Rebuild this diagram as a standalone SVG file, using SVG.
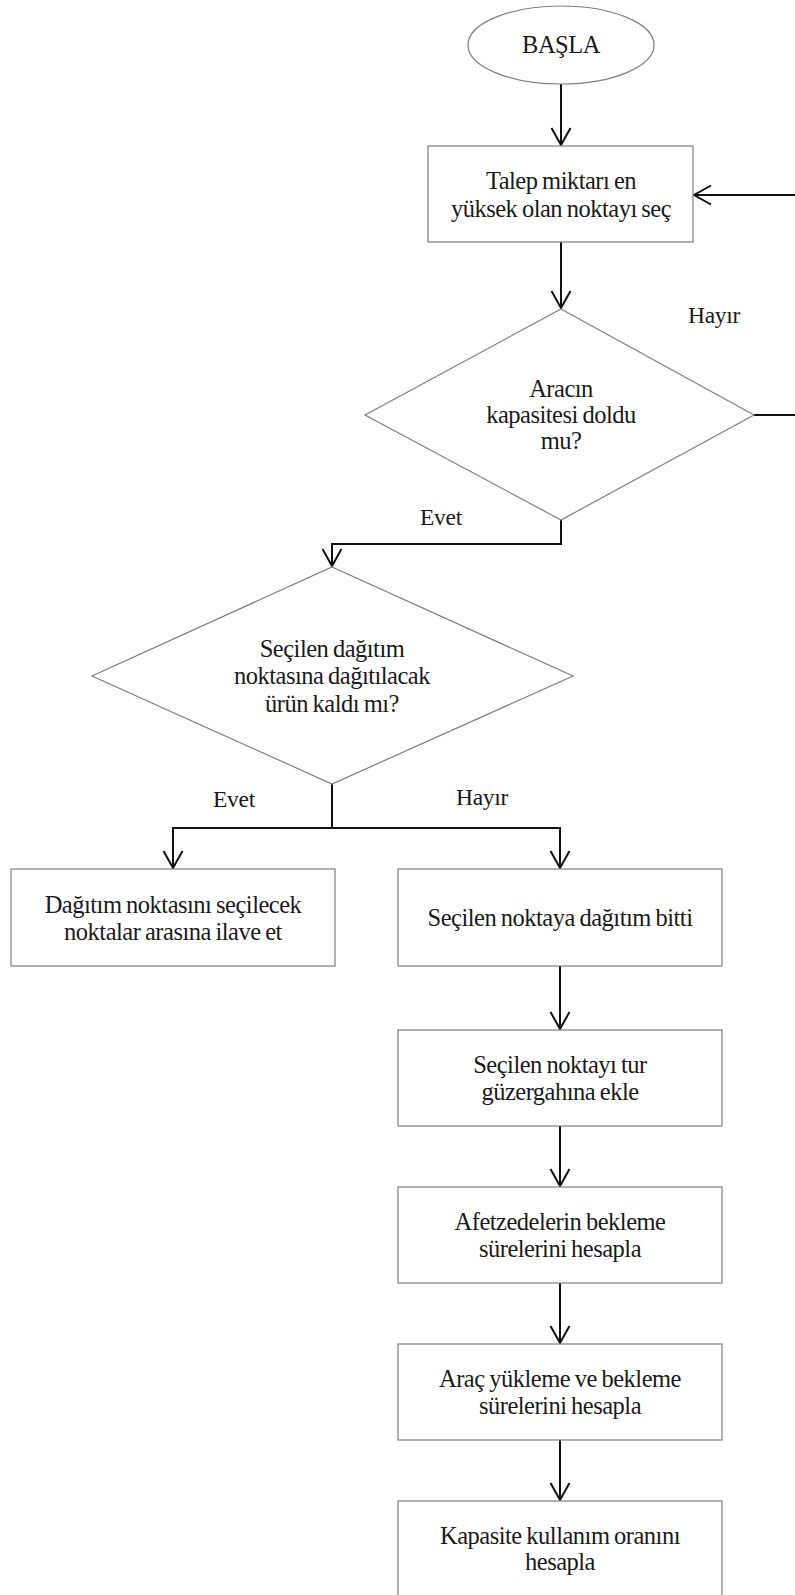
<svg xmlns="http://www.w3.org/2000/svg" width="795" height="1595" viewBox="0 0 795 1595">
<style>
.node{fill:#fff;stroke:#7f7f7f;stroke-width:1.2}
.t{font-family:"Liberation Serif","Times New Roman",serif;font-size:24.5px;letter-spacing:-0.5px;word-spacing:-1px;fill:#1a1a1a;text-anchor:middle}
.lbl{font-family:"Liberation Serif","Times New Roman",serif;font-size:23.5px;letter-spacing:-0.3px;fill:#1a1a1a}
.c{fill:none;stroke:#111;stroke-width:2}
</style>
<defs>
<marker id="ah" markerUnits="userSpaceOnUse" markerWidth="30" markerHeight="30" viewBox="-20 -15 30 30" refX="0" refY="0" orient="auto">
<path d="M-17,-9.5 L0,0 L-17,9.5" fill="none" stroke="#111" stroke-width="2"/>
</marker>
</defs>
<rect width="795" height="1595" fill="#fff"/>
<g id="connectors">
<path class="c" d="M561,84 V145" marker-end="url(#ah)"/>
<path class="c" d="M561,242 V308" marker-end="url(#ah)"/>
<path class="c" d="M754,415 H800 V195 H694" marker-end="url(#ah)"/>
<path class="c" d="M561,520 V544 H332 V566" marker-end="url(#ah)"/>
<path class="c" d="M332,784 V828 H173 V868" marker-end="url(#ah)"/>
<path class="c" d="M332,828 H560 V868" marker-end="url(#ah)"/>
<path class="c" d="M560,966 V1029" marker-end="url(#ah)"/>
<path class="c" d="M560,1126 V1186" marker-end="url(#ah)"/>
<path class="c" d="M560,1283 V1343" marker-end="url(#ah)"/>
<path class="c" d="M560,1440 V1500" marker-end="url(#ah)"/>
</g>
<g id="labels">
<text class="lbl" x="688" y="323">Hayır</text>
<text class="lbl" x="420" y="525">Evet</text>
<text class="lbl" x="213" y="807">Evet</text>
<text class="lbl" x="456" y="805">Hayır</text>
</g>
<g id="start">
<ellipse class="node" cx="561" cy="45" rx="93" ry="39"/>
<text class="t" x="561" y="53">BAŞLA</text>
</g>
<g id="select-max">
<rect class="node" x="428" y="146" width="265" height="96"/>
<text class="t" x="561" y="189">Talep miktarı en</text>
<text class="t" x="561" y="217">yüksek olan noktayı seç</text>
</g>
<g id="capacity-full">
<polygon class="node" points="561,309 754,415 561,520 365,415"/>
<text class="t" x="561" y="397">Aracın</text>
<text class="t" x="561" y="423">kapasitesi doldu</text>
<text class="t" x="561" y="449">mu?</text>
</g>
<g id="product-left">
<polygon class="node" points="332,567 573,676 332,784 92,676"/>
<text class="t" x="332" y="657">Seçilen dağıtım</text>
<text class="t" x="332" y="684">noktasına dağıtılacak</text>
<text class="t" x="332" y="712">ürün kaldı mı?</text>
</g>
<g id="add-point">
<rect class="node" x="11" y="869" width="324" height="97"/>
<text class="t" x="173" y="913">Dağıtım noktasını seçilecek</text>
<text class="t" x="173" y="940">noktalar arasına ilave et</text>
</g>
<g id="distribution-done">
<rect class="node" x="398" y="869" width="324" height="97"/>
<text class="t" x="560" y="926">Seçilen noktaya dağıtım bitti</text>
</g>
<g id="add-route">
<rect class="node" x="398" y="1030" width="324" height="96"/>
<text class="t" x="560" y="1073">Seçilen noktayı tur</text>
<text class="t" x="560" y="1100">güzergahına ekle</text>
</g>
<g id="victim-wait">
<rect class="node" x="398" y="1187" width="324" height="96"/>
<text class="t" x="560" y="1230">Afetzedelerin bekleme</text>
<text class="t" x="560" y="1257">sürelerini hesapla</text>
</g>
<g id="vehicle-times">
<rect class="node" x="398" y="1344" width="324" height="96"/>
<text class="t" x="560" y="1387">Araç yükleme ve bekleme</text>
<text class="t" x="560" y="1414">sürelerini hesapla</text>
</g>
<g id="capacity-usage">
<rect class="node" x="398" y="1501" width="324" height="96"/>
<text class="t" x="560" y="1544">Kapasite kullanım oranını</text>
<text class="t" x="560" y="1570">hesapla</text>
</g>
</svg>
